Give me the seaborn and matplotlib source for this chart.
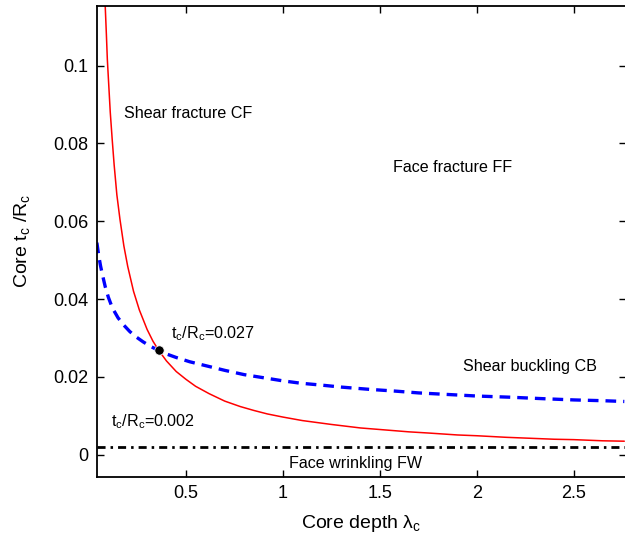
import matplotlib
matplotlib.use("Agg")
import matplotlib.pyplot as plt
import matplotlib.ticker as mticker
import pandas as pd
import seaborn as sns

# face fracture / shear fracture boundary (red)
red_x = [0.080, 0.084, 0.090, 0.095, 0.100, 0.110, 0.120, 0.130, 0.144, 0.160,
         0.180, 0.200, 0.230, 0.260, 0.300, 0.330, 0.360, 0.400, 0.450, 0.500,
         0.550, 0.620, 0.700, 0.780, 0.850, 0.920, 1.000, 1.100, 1.250, 1.400,
         1.500, 1.650, 1.750, 1.900, 2.000, 2.150, 2.250, 2.400, 2.500, 2.650,
         2.760]
red_y = [0.1210, 0.1153, 0.1080, 0.1015, 0.0970, 0.0880, 0.0810, 0.0745,
         0.0668, 0.0605, 0.0537, 0.0484, 0.0420, 0.0372, 0.0322, 0.0292,
         0.0268, 0.0241, 0.0214, 0.0194, 0.0176, 0.0157, 0.0138, 0.0124,
         0.0114, 0.0105, 0.0097, 0.0088, 0.0078, 0.0069, 0.0065, 0.0059,
         0.0056, 0.0051, 0.0049, 0.0045, 0.0043, 0.0040, 0.0039, 0.0036,
         0.0035]

# shear buckling boundary (blue dashed)
blue_x = [0.041, 0.050, 0.060, 0.070, 0.084, 0.100, 0.115, 0.127, 0.150, 0.180,
          0.210, 0.240, 0.280, 0.320, 0.359, 0.400, 0.450, 0.520, 0.610, 0.700,
          0.800, 0.900, 1.000, 1.090, 1.200, 1.300, 1.450, 1.570, 1.700, 1.850,
          2.000, 2.170, 2.350, 2.500, 2.650, 2.760]
blue_y = [0.0545, 0.0513, 0.0485, 0.0462, 0.0432, 0.0405, 0.0385, 0.0372,
          0.0352, 0.0333, 0.0317, 0.0304, 0.0290, 0.0278, 0.0268, 0.0259,
          0.0250, 0.0239, 0.0228, 0.0217, 0.0206, 0.0198, 0.0190, 0.0184,
          0.0179, 0.0174, 0.0168, 0.0164, 0.0159, 0.0155, 0.0151, 0.0148,
          0.0144, 0.0141, 0.0139, 0.0137]

# face wrinkling limit (black dash-dot)
fw_x = [0.041, 2.77]
fw_y = [0.002, 0.002]

# intersection point
pt_x = [0.359]
pt_y = [0.027]

xticks = [0.5, 1, 1.5, 2, 2.5]
yticks = [0, 0.02, 0.04, 0.06, 0.08, 0.1]

sns.set_style("ticks")
plt.rcParams["font.family"] = ["Liberation Sans", "DejaVu Sans"]
plt.rcParams["mathtext.fontset"] = "custom"
plt.rcParams["mathtext.rm"] = "Liberation Sans"
plt.rcParams["mathtext.it"] = "Liberation Sans:italic"
plt.rcParams["xtick.direction"] = "in"
plt.rcParams["ytick.direction"] = "in"
for k in ["text.color", "axes.labelcolor", "axes.edgecolor", "xtick.color", "ytick.color"]:
    plt.rcParams[k] = "black"

red = pd.DataFrame({"x": red_x, "y": red_y})
blue = pd.DataFrame({"x": blue_x, "y": blue_y})
fw = pd.DataFrame({"x": fw_x, "y": fw_y})
pt = pd.DataFrame({"x": pt_x, "y": pt_y})

fig = plt.figure(figsize=(6.25, 5.41), dpi=100)
ax = fig.add_axes([0.155, 0.119, 0.847, 0.870])

sns.lineplot(data=red, x="x", y="y", color="#ff0000", lw=1.1, ax=ax, sort=False)
sns.lineplot(data=blue, x="x", y="y", color="#0000ff", lw=2.4, ax=ax, sort=False)
ax.lines[-1].set_dashes([3.2, 2.1])
sns.lineplot(data=fw, x="x", y="y", color="black", lw=2.0, ax=ax)
ax.lines[-1].set_dashes([2.9, 1.8, 0.9, 1.8])
sns.scatterplot(data=pt, x="x", y="y", color="black", s=45, ax=ax, zorder=5)

fs = 11.6
ax.text(0.182, 0.0878, "Shear fracture CF", fontsize=fs, va="center")
ax.text(1.565, 0.0737, "Face fracture FF", fontsize=fs, va="center")
ax.text(1.93, 0.0226, "Shear buckling CB", fontsize=fs, va="center")
ax.text(1.03, -0.0022, "Face wrinkling FW", fontsize=fs, va="center")
ax.text(0.425, 0.0310, r"t$_{\rm c}$/R$_{\rm c}$=0.027", fontsize=fs, va="center")
ax.text(0.115, 0.0086, r"t$_{\rm c}$/R$_{\rm c}$=0.002", fontsize=fs, va="center")

ax.set_xlim(0.041, 2.77)
ax.set_ylim(-0.0056, 0.1153)
ax.set_xticks(xticks)
ax.set_yticks(yticks)
fmt = mticker.FormatStrFormatter("%g")
ax.xaxis.set_major_formatter(fmt)
ax.yaxis.set_major_formatter(fmt)
ax.tick_params(axis="both", which="major", labelsize=13, length=5, width=1,
               top=True, right=True, pad=6)
for s in ax.spines.values():
    s.set_linewidth(1.3)

ax.set_xlabel("Core depth λ$_{\\rm c}$", fontsize=14, labelpad=8)
ax.set_ylabel(r"Core t$_{\rm c}$ /R$_{\rm c}$", fontsize=14, labelpad=15)

fig.savefig("out.png", dpi=100)
